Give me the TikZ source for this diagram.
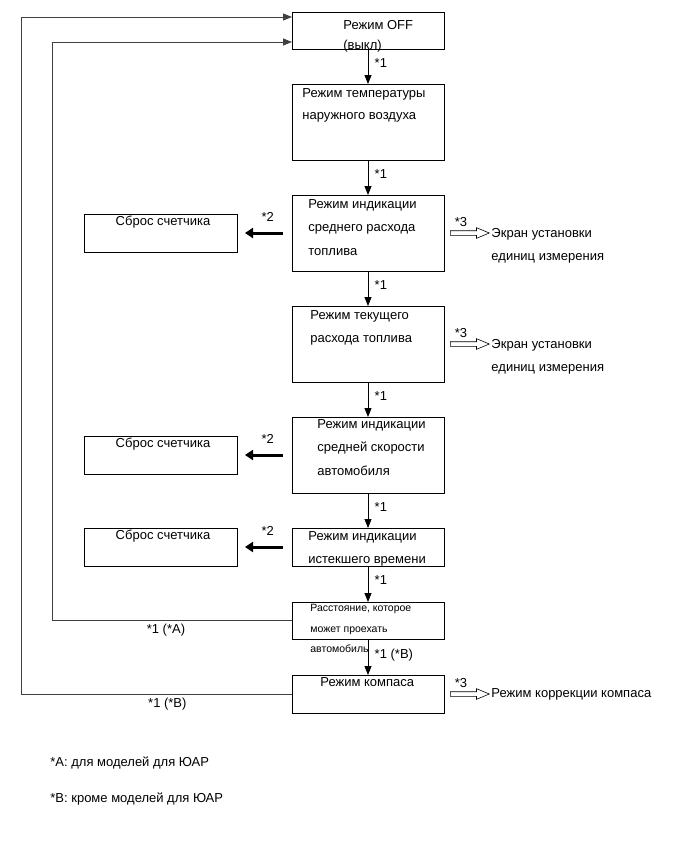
\documentclass[tikz,border=0pt]{standalone}
\usepackage{fontspec}
\setmainfont{Liberation Sans}
\usepackage{tikz}
\usetikzlibrary{arrows.meta,positioning,shapes.arrows,calc}

\begin{document}
\begin{tikzpicture}[x=1pt,y=-1pt,node distance=35pt,line width=0.8pt,
  font=\fontsize{13}{23.5}\selectfont,
  box/.style={rectangle, draw, inner sep=0pt, outer sep=0pt, minimum width=152pt},
  rbox/.style={rectangle, draw, inner sep=0pt, outer sep=0pt, minimum width=153pt, minimum height=38pt},
  txt/.style={anchor=north west, align=left, inner sep=0pt},
  down/.style={-{Triangle[length=9pt,width=7pt]}},
  back/.style={draw=black!75, -{Triangle[length=9pt,width=7pt]}},
  heavy/.style={line width=3pt, -{Triangle[length=8pt,width=10pt]}, shorten <=9pt, shorten >=8pt},
  hollow/.style={single arrow, draw, line width=0.6pt, inner xsep=0pt, inner ysep=2pt, text height=0pt, text depth=0pt, minimum height=39pt, single arrow head extend=3pt, single arrow tip angle=45}]
  \useasboundingbox (0,0) rectangle (691,854);

  \node (off) [box, minimum height=37pt, anchor=north west] at (292,12) {};
  \node (temp) [box, minimum height=76pt, below=of off] {};
  \node (avgf) [box, minimum height=76pt, below=of temp] {};
  \node (curf) [box, minimum height=76pt, below=of avgf] {};
  \node (avgs) [box, minimum height=76pt, below=of curf] {};
  \node (elap) [box, minimum height=38pt, below=of avgs] {};
  \node (dist) [box, minimum height=37pt, below=36pt of elap] {};
  \node (comp) [box, minimum height=38pt, below=36pt of dist] {};

  \node (rs1) [rbox, left=55pt of avgf] {};
  \node (rs2) [rbox, left=55pt of avgs] {};
  \node (rs3) [rbox, left=55pt of elap] {};

  \node (offt) [txt] at ([xshift=51pt,yshift=-8pt]off.north west) {Режим OFF\\[-3.5pt](выкл)};
  \node (tempt) [txt] at ([xshift=10pt,yshift=-4pt]temp.north west) {Режим температуры\\[-1.5pt]наружного воздуха};
  \node (avgft) [txt] at ([xshift=16pt,yshift=-4pt]avgf.north west) {Режим индикации\\среднего расхода\\топлива};
  \node (curft) [txt] at ([xshift=18pt,yshift=-4pt]curf.north west) {Режим текущего\\расхода топлива};
  \node (avgst) [txt] at ([xshift=25pt,yshift=-2pt]avgs.north west) {Режим индикации\\средней скорости\\автомобиля};
  \node (elapt) [txt] at ([xshift=16pt,yshift=-3pt]elap.north west) {Режим индикации\\истекшего времени};
  \node (distt) [txt, font=\fontsize{10.5}{20.5}\selectfont] at ([xshift=18pt,yshift=-2pt]dist.north west) {Расстояние, которое\\может проехать\\автомобиль};
  \node (compt) [txt] at ([xshift=28pt,yshift=-2pt]comp.north west) {Режим компаса};
  \node (rs1t) [txt, anchor=north] at ([xshift=2.5pt,yshift=-2pt]rs1.north) {Сброс счетчика};
  \node (rs2t) [txt, anchor=north] at ([xshift=2.5pt,yshift=-2pt]rs2.north) {Сброс счетчика};
  \node (rs3t) [txt, anchor=north] at ([xshift=2.5pt,yshift=-2pt]rs3.north) {Сброс счетчика};

  \draw[down] (off) -- node[pos=0.4, right=3pt] {*1} (temp);
  \draw[down] (temp) -- node[pos=0.4, right=3pt] {*1} (avgf);
  \draw[down] (avgf) -- node[pos=0.4, right=3pt] {*1} (curf);
  \draw[down] (curf) -- node[pos=0.4, right=3pt] {*1} (avgs);
  \draw[down] (avgs) -- node[pos=0.4, right=3pt] {*1} (elap);
  \draw[down] (elap) -- node[pos=0.4, right=3pt] {*1} (dist);
  \draw[down] (dist) -- node[pos=0.45, right=3pt] {*1 (*B)} (comp);

  \draw[heavy] (avgf.west) -- node[pos=0.44, above=7pt] {*2} (rs1.east);
  \draw[heavy] (avgs.west) -- node[pos=0.44, above=7pt] {*2} (rs2.east);
  \draw[heavy] (elap.west) -- node[pos=0.44, above=7pt] {*2} (rs3.east);

  \node (u1) [hollow, right=6pt of avgf] {};
  \node (u2) [hollow, right=6pt of curf] {};
  \node (u3) [hollow, right=6pt of comp] {};
  \node (s1) at ([xshift=-6pt,yshift=11pt]u1.center) {*3};
  \node (s2) at ([xshift=-6pt,yshift=11pt]u2.center) {*3};
  \node (s3) at ([xshift=-6pt,yshift=11pt]u3.center) {*3};
  \node (scr1) [txt] at ([xshift=1pt,yshift=5pt]u1.east) {Экран установки\\единиц измерения};
  \node (scr2) [txt] at ([xshift=1pt,yshift=5pt]u2.east) {Экран установки\\единиц измерения};
  \node (corr) [txt] at ([xshift=1pt,yshift=6pt]u3.east) {Режим коррекции компаса};

  \coordinate (outer) at (21,0);
  \coordinate (inner) at (52,0);
  \draw[back] (comp.west) -- node[pos=0.46, below] {*1 (*B)} (comp.west -| outer) |- ([yshift=13.5pt]off.west);
  \draw[back] (dist.west) -- node[pos=0.525, below] {*1 (*A)} (dist.west -| inner) |- ([yshift=-11.5pt]off.west);

  \node (noteA) [anchor=west, inner sep=0pt] at (50,763) {*A: для моделей для ЮАР};
  \node (noteB) [anchor=west, inner sep=0pt] at (50,799) {*B: кроме моделей для ЮАР};
\end{tikzpicture}
\end{document}
